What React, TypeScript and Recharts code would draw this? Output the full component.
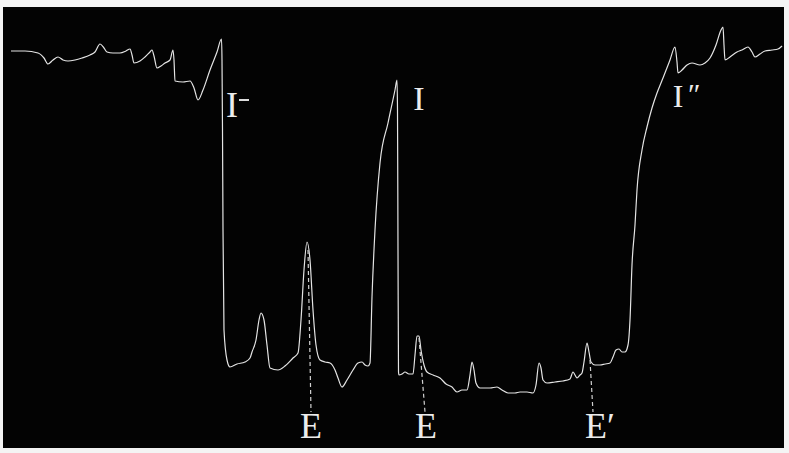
import React from "react";
import { LineChart, Line, XAxis, YAxis, ReferenceLine, ReferenceDot } from "recharts";

const time = [
  11, 25, 38, 44, 48, 53, 58, 63, 68, 75, 82, 90, 95, 100, 104, 107, 113, 120, 126, 130,
  132, 134, 140, 145, 150, 152, 154, 157, 161, 165, 170, 173, 174, 175, 183, 190, 194, 198, 203, 210,
  217, 221.5, 222, 222.5, 223, 224, 227, 230, 237, 245, 250, 252, 256, 259, 261, 264, 267, 270, 278, 285,
  293, 298, 301, 304, 307, 310, 313, 316, 320, 325, 330, 335, 338, 342, 347, 353, 358, 362, 365, 368,
  370, 372, 375, 380, 388, 395, 397, 397.5, 398, 398.5, 399, 402, 405, 409, 413, 415, 417, 419, 421, 424,
  427, 433, 440, 446, 452, 457, 462, 467, 470, 472, 474, 476, 480, 490, 497, 502, 508, 515, 520, 527,
  533, 536, 539, 541, 543, 547, 555, 563, 570, 573, 575, 577, 580, 582, 584, 587, 589, 591, 595, 600,
  605, 610, 613, 616, 619, 622, 625, 628, 630, 632, 635, 637, 642, 647, 652, 657, 663, 670, 675, 677,
  678, 682, 687, 692, 700, 705, 710, 716, 721, 723, 724, 725, 730, 737, 742, 748, 752, 755, 760, 765,
  772, 778, 782,
];
const depth = [
  51, 51, 53, 58, 64, 60, 57, 60, 61, 60, 58, 55, 52, 44, 48, 52, 53, 53, 51, 49,
  55, 63, 61, 57, 52, 50, 56, 68, 66, 63, 60, 50, 60, 81, 82, 81, 88, 100, 90, 70,
  52, 39, 60, 130, 230, 330, 360, 367, 364, 362, 358, 352, 340, 320, 313, 320, 345, 368, 370, 366,
  358, 353, 320, 270, 242, 260, 310, 345, 360, 362, 363, 370, 378, 387, 380, 370, 363, 362, 365, 366,
  363, 297, 230, 163, 123, 90, 80, 110, 250, 372, 375, 374, 372, 374, 374, 355, 336, 336, 350, 365,
  372, 375, 378, 384, 387, 392, 390, 390, 375, 362, 370, 383, 388, 388, 387, 390, 393, 393, 392, 392,
  393, 385, 363, 368, 380, 383, 382, 381, 379, 372, 375, 378, 375, 373, 362, 343, 352, 362, 365, 365,
  364, 363, 357, 350, 349, 352, 352, 345, 320, 265, 225, 190, 150, 127, 108, 93, 78, 60, 47, 62,
  73, 70, 65, 63, 65, 63, 58, 45, 30, 27, 45, 60, 57, 52, 50, 47, 52, 57, 54, 51,
  50, 49, 46,
];

// Dashed markers from the E peaks down to their letters
const markerTopX = [308, 419, 590];
const markerTopY = [250, 338, 360];
const markerBottomX = [311, 425, 593];
const markerBottomY = [412, 412, 412];

// Letter labels
const labelText = ["I", "I", "I", "\u2033", "E", "E", "E\u2032"];
const labelX = [232, 419, 678, 688, 311, 426, 585];
const labelY = [117, 110, 107, 104, 438, 438, 438];
const labelSize = [36, 34, 32, 30, 36, 36, 36];
const labelAnchor = ["middle", "middle", "middle", "start", "middle", "middle", "start"];

// Small bar after the first I
const barX1 = 239;
const barX2 = 249;
const barY = 100;

const data = time.map((t, i) => ({ t, v: depth[i] }));

const W = 789;
const H = 453;

export default function App() {
  return (
    <div style={{ position: "absolute", left: 0, top: 0, width: W, height: H, background: "#f4f4f4" }}>
      <div style={{ position: "absolute", left: 3, top: 7, width: 781, height: 441, background: "#030303" }} />
      <div style={{ position: "absolute", left: 0, top: 0 }}>
        <LineChart width={W} height={H} data={data} margin={{ top: 0, right: 0, bottom: 0, left: 0 }}>
          <XAxis dataKey="t" type="number" domain={[0, W]} hide allowDataOverflow />
          <YAxis type="number" domain={[0, H]} reversed hide allowDataOverflow />
          <Line
            type="monotone"
            dataKey="v"
            stroke="#e4e4e4"
            strokeWidth={1.2}
            dot={false}
            activeDot={false}
            isAnimationActive={false}
          />
          {markerTopX.map((x, i) => (
            <ReferenceLine
              key={"m" + i}
              segment={[
                { x, y: markerTopY[i] },
                { x: markerBottomX[i], y: markerBottomY[i] },
              ]}
              stroke="#d0d0d0"
              strokeWidth={1.2}
              strokeDasharray="4 3"
            />
          ))}
          <ReferenceLine
            segment={[
              { x: barX1, y: barY },
              { x: barX2, y: barY },
            ]}
            stroke="#dcdcdc"
            strokeWidth={2}
          />
          {labelText.map((txt, i) => (
            <ReferenceDot
              key={"l" + i}
              x={labelX[i]}
              y={labelY[i]}
              r={0}
              shape={(p: any) => (
                <text
                  x={p.cx}
                  y={p.cy}
                  textAnchor={labelAnchor[i]}
                  fontFamily="'Liberation Serif', serif"
                  fontSize={labelSize[i]}
                  fill="#ececec"
                >
                  {txt}
                </text>
              )}
            />
          ))}
        </LineChart>
      </div>
    </div>
  );
}
